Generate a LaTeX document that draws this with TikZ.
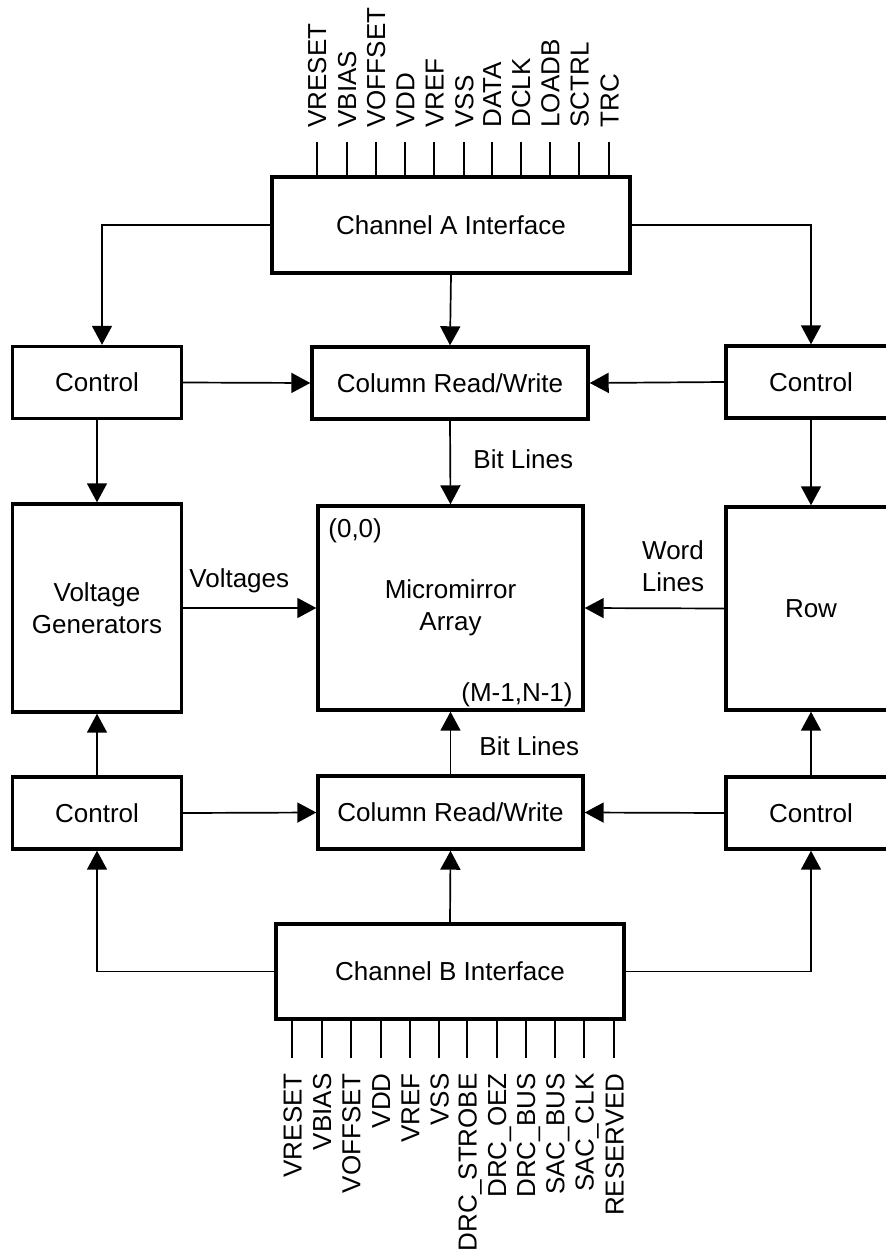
\documentclass[tikz,border=0pt]{standalone}
\usepackage{fontspec}
\setmainfont{Liberation Sans}
\usetikzlibrary{arrows.meta,calc}
\begin{document}
\begin{tikzpicture}[x=0.5pt,y=-0.5pt,
  txt/.style={font=\fontsize{13}{16}\selectfont},
  box/.style={draw,line width=1.7pt,inner sep=0pt,align=center,txt},
  bx/.style 2 args={box,minimum width=#1,minimum height=#2},
  wire/.style={line width=0.85pt},
  arr/.style={wire,-{Triangle[length=9.5pt,width=10pt]}},
  lbl/.style={inner sep=0pt,txt},
  pinlbl/.style={lbl,rotate=90,text height=9.3pt,text depth=0pt}]
\clip (0,0) rectangle (886,1251);
\fill[white] (0,0) rectangle (886,1251);

% blocks
\node[bx={179pt}{48pt}] (ChA) at (451,225) {Channel A Interface};
\node[bx={84.5pt}{36pt}] (CtlTL) at (97,382.5) {Control};
\node[bx={138pt}{36pt}] (ColTop) at (450,383) {Column Read/Write};
\node[bx={85pt}{36pt}] (CtlTR) at (811,382) {Control};
\node[bx={84.5pt}{104pt}] (VG) at (97,608) {Voltage\\Generators};
\node[bx={132.5pt}{102pt}] (MA) at (450.5,608) {Micromirror\\Array};
\node[bx={85pt}{101.5pt}] (Row) at (811,608.5) {Row};
\node[bx={84.5pt}{36pt}] (CtlBL) at (97,813) {Control};
\node[bx={132.5pt}{36.5pt}] (ColBot) at (450.5,812.5) {Column Read/Write};
\node[bx={85pt}{36pt}] (CtlBR) at (811,813) {Control};
\node[bx={174pt}{47.5pt}] (ChB) at (450,971.5) {Channel B Interface};

% corner labels in the array
\node[lbl,anchor=north west] (c00) at (328,518) {(0,0)};
\node[lbl,anchor=north east] (cMN) at (573,682) {(M-1,N-1)};

% top pins
\foreach \x/\t [count=\i] in {316.7/VRESET,346.7/VBIAS,375.7/VOFFSET,405/VDD,434.3/VREF,464/VSS,491.7/DATA,520.7/DCLK,550/LOADB,579.3/SCTRL,609.3/TRC}{
  \coordinate (tp\i) at (\x,142);
  \draw[wire] (tp\i) -- (tp\i |- ChA.north);
  \node[pinlbl,anchor=west] (tl\i) at (\x,128) {\t};
}
% bottom pins
\foreach \x/\t [count=\i] in {292.3/VRESET,321.7/VBIAS,351/VOFFSET,380.7/VDD,410/VREF,439.3/VSS,467.3/DRC\_STROBE,496.7/DRC\_OEZ,525.7/DRC\_BUS,555/SAC\_BUS,584.3/SAC\_CLK,614.3/RESERVED}{
  \coordinate (bp\i) at (\x,1058);
  \draw[wire] (bp\i) -- (bp\i |- ChB.south);
  \node[pinlbl,anchor=east] (bl\i) at (\x,1073) {\t};
}

% connectors
\draw[arr] (ChA.west) -| ($(CtlTL.north)+(5,0)$);
\draw[arr] (ChA.east) -| (CtlTR.north);
\draw[arr] (ChA.south) -- (ColTop.north);
\draw[arr] (CtlTL.east) -- (ColTop.west);
\draw[arr] (CtlTR.west) -- (ColTop.east);
\draw[arr] (ColTop.south) -- (MA.north);
\draw[arr] (CtlTL.south) -- (VG.north);
\draw[arr] (CtlTR.south) -- (Row.north);
\draw[arr] (VG.east) -- (MA.west);
\draw[arr] (Row.west) -- (MA.east);
\draw[arr] (CtlBL.north) -- (VG.south);
\draw[arr] (CtlBR.north) -- (Row.south);
\draw[arr] (ColBot.north) -- (MA.south);
\draw[arr] (CtlBL.east) -- (ColBot.west);
\draw[arr] (CtlBR.west) -- (ColBot.east);
\draw[arr] (ChB.north) -- (ColBot.south);
\draw[arr] (ChB.west) -| (CtlBL.south);
\draw[arr] (ChB.east) -| (CtlBR.south);

% connector labels
\node[lbl,anchor=base west] (bit1) at (473,468) {Bit Lines};
\node[lbl,anchor=base west] (bit2) at (479,755) {Bit Lines};
\node[lbl,anchor=base west] (volt) at (189,587) {Voltages};
\node[lbl,anchor=north,align=center] (word) at (673,540) {Word\\Lines};
\end{tikzpicture}
\end{document}
